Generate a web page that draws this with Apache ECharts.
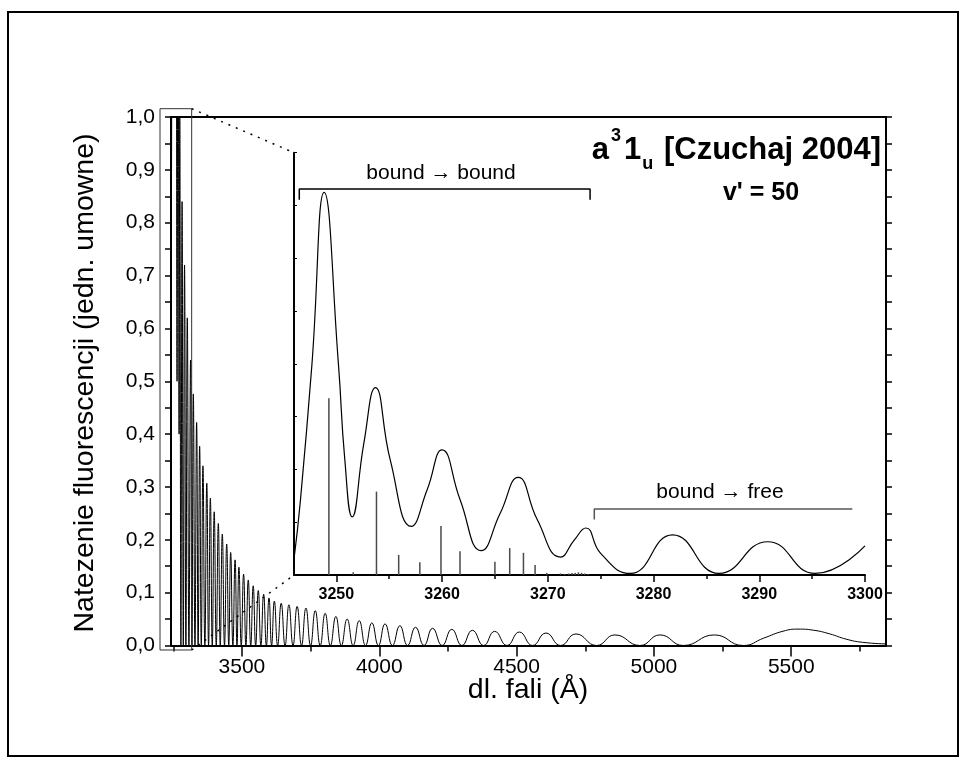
<!DOCTYPE html>
<html><head><meta charset="utf-8">
<script src="https://cdn.jsdelivr.net/npm/echarts@6/dist/echarts.min.js"></script>
<style>html,body{margin:0;padding:0;background:#fff}#c{width:978px;height:775px}</style>
</head><body><div id="c"></div>
<script>
// ---- main spectrum (wavelength in Å, intensity) ----
const mainX = [3241,3249,3251.5,3253.7,3257.1,3260,3263.7,3267.2,3271.2,3273.6,3277.8,3282,3286.5,3291,3296,3301,3307,3313,3318,3323,3329,3335,3340.5,3346,3352,3358,3365,3372,3378.5,3385,3392,3399,3406.5,3414,3421,3428.5,3436.5,3444.5,3452,3459,3467,3475,3482,3489,3497.5,3506,3514.5,3523,3532,3541,3550,3559.5,3569,3579,3589,3598.5,3608,3618,3630,3643,3657,3671,3686,3701,3717,3733,3750,3767,3785,3803,3822,3842,3862,3883,3905,3927,3950,3973,3997,4021,4048,4075,4103,4132,4163,4194,4229,4264,4301,4339,4380,4420,4465,4510,4558,4607,4660,4716,4791,4858,4949,5022,5107,5220,5325,5400,5470,5525,5580,5640,5700,5760,5845];
const mainY = [0.18,1.5,1.2,1.5,1.0,1.5,0.5,1.5,0.4,1.0,0.0,0.84,0.0,0.72,0.0,0.62,0.0,0.54,0.0,0.476,0.0,0.422,0.0,0.377,0.0,0.34,0.0,0.307,0.0,0.279,0.0,0.253,0.0,0.231,0.0,0.211,0.0,0.192,0.0,0.176,0.0,0.162,0.0,0.148,0.0,0.135,0.0,0.124,0.0,0.113,0.0,0.104,0.0,0.097,0.0,0.09,0.0,0.084,0.0,0.080,0.0,0.077,0.0,0.074,0.0,0.071,0.0,0.066,0.0,0.061,0.0,0.055,0.0,0.050,0.0,0.047,0.0,0.043,0.0,0.041,0.0,0.0375,0.0,0.0345,0.0,0.0325,0.0,0.0306,0.0,0.0287,0.0,0.0268,0.0,0.0255,0.0,0.0236,0.0,0.0218,0.0,0.020,0.0,0.020,0.0,0.020,0.0,0.014,0.027,0.031,0.029,0.022,0.012,0.006,0.003];

// ---- inset: envelope curve ----
const insetX = [3246.0,3246.6,3247.7,3248.85,3250.2,3250.8,3251.5,3252.6,3253.7,3255.1,3257.1,3258.6,3260.0,3261.7,3263.7,3265.5,3267.2,3269.0,3271.2,3272.5,3273.6,3275.0,3277.8,3281.8,3286.2,3290.8,3295.3,3300];
const insetY = [0.03,0.14,0.40,0.725,0.40,0.22,0.11,0.249,0.355,0.218,0.092,0.162,0.237,0.143,0.046,0.117,0.185,0.105,0.034,0.066,0.089,0.041,0.003,0.076,0.003,0.063,0.003,0.055];

// ---- inset: stick spectrum ----
const stickX = [3249.3,3251.6,3253.8,3255.9,3257.9,3259.9,3261.7,3265.0,3266.4,3267.7,3268.8,3269.9,3271.2,3271.6,3272.0,3272.3,3272.6,3272.9,3273.2,3273.5,3273.8];
const stickY = [0.335,0.005,0.158,0.038,0.024,0.093,0.045,0.025,0.051,0.042,0.019,0.004,0.003,0.002,0.003,0.004,0.004,0.005,0.004,0.003,0.002];

// ---- ticks ----
const mainTicks = [3500,4000,4500,5000,5500];
const mainMinorTicks = [3250,3750,4250,4750,5250,5750];
const insetTicks = [3250,3260,3270,3280,3290,3300];
const insetMinorTicks = [3255,3265,3275,3285,3295];

// ---- annotations (data coordinates) ----
const bbX = [3246.5,3246.5,3274,3274], bbY = [0.711,0.731,0.731,0.711];
const bfX = [3274.4,3274.4,3298.8], bfY = [0.105,0.125,0.125];
const boxX = [3201.7,3317], boxY = [-0.0085,1.0157];

const FF = '"Liberation Sans", Arial, sans-serif';
const zip = (a,b) => a.map((v,i)=>[v,b[i]]);
const plain = v => String(v);

const chart = echarts.init(document.getElementById('c'));
const axisLine = {show:true, lineStyle:{color:'#000', width:2}};
const option = {
  animation:false,
  backgroundColor:'#fff',
  grid:[
    {left:171, top:117, width:715, height:528.5},
    {left:294, top:152.7, width:571, height:422.3}
  ],
  xAxis:[
    {type:'value', gridIndex:0, min:3241.7, max:5845, position:'bottom', axisLine,
     splitLine:{show:false},
     axisTick:{show:true, customValues:mainTicks, length:11, lineStyle:{width:1.5,color:'#000'}},
     axisLabel:{show:true, customValues:mainTicks, formatter:plain, fontSize:21, fontFamily:FF, color:'#000', margin:11}},
    {type:'value', gridIndex:0, min:3241.7, max:5845, position:'bottom', axisLine:{show:false},
     splitLine:{show:false},
     axisTick:{show:true, customValues:mainMinorTicks, length:6, lineStyle:{width:1.5,color:'#000'}},
     axisLabel:{show:false}},
    {type:'value', gridIndex:0, min:3241.7, max:5845, position:'top', axisLine,
     splitLine:{show:false}, axisTick:{show:false}, axisLabel:{show:false}},
    {type:'value', gridIndex:1, min:3246, max:3300, position:'bottom', axisLine,
     splitLine:{show:false},
     axisTick:{show:true, customValues:insetTicks, length:7, lineStyle:{width:1.5,color:'#000'}},
     axisLabel:{show:true, customValues:insetTicks, formatter:plain, fontSize:16, fontWeight:'bold', fontFamily:FF, color:'#000', margin:12}},
    {type:'value', gridIndex:1, min:3246, max:3300, position:'bottom', axisLine:{show:false},
     splitLine:{show:false},
     axisTick:{show:true, customValues:insetMinorTicks, length:4, lineStyle:{width:1.5,color:'#000'}},
     axisLabel:{show:false}}
  ],
  yAxis:[
    {type:'value', gridIndex:0, min:0, max:1, interval:0.1, position:'left', axisLine,
     splitLine:{show:false},
     axisTick:{show:true, length:6, lineStyle:{width:1.5,color:'#000'}},
     minorTick:{show:true, splitNumber:2, length:6, lineStyle:{width:1.5,color:'#000'}},
     axisLabel:{fontSize:21, fontFamily:FF, color:'#000', margin:16,
       formatter:v=>v.toFixed(1).replace('.',',')}},
    {type:'value', gridIndex:0, min:0, max:1, interval:0.1, position:'right', axisLine,
     splitLine:{show:false},
     axisTick:{show:true, length:6, lineStyle:{width:1.5,color:'#000'}},
     minorTick:{show:true, splitNumber:2, length:6, lineStyle:{width:1.5,color:'#000'}},
     axisLabel:{show:false}},
    {type:'value', gridIndex:1, min:0, max:0.8, interval:0.1, position:'left', axisLine,
     splitLine:{show:false},
     axisTick:{show:true, inside:true, length:3, lineStyle:{width:1,color:'#000'}},
     axisLabel:{show:false}}
  ],
  series:[
    {type:'line', xAxisIndex:0, yAxisIndex:0, data:zip(mainX,mainY), smooth:0.5, symbol:'none',
     clip:true, lineStyle:{color:'#000', width:1}},
    {type:'bar', xAxisIndex:3, yAxisIndex:2, data:zip(stickX,stickY), barWidth:1.5,
     itemStyle:{color:'#4a4a4a'}},
    {type:'line', xAxisIndex:3, yAxisIndex:2, data:zip(insetX,insetY), smooth:0.5, symbol:'none',
     clip:true, lineStyle:{color:'#000', width:1.2}},
    {type:'line', xAxisIndex:3, yAxisIndex:2, data:zip(bbX,bbY), symbol:'none',
     lineStyle:{color:'#000', width:1.5}},
    {type:'line', xAxisIndex:3, yAxisIndex:2, data:zip(bfX,bfY), symbol:'none',
     lineStyle:{color:'#555', width:1.5}}
  ]
};
chart.setOption(option);

const px = (g, x, y) => chart.convertToPixel({gridIndex:g}, [x, y]);
const b0 = px(0, boxX[0], boxY[1]), b1 = px(0, boxX[1], boxY[0]);
const iTop = px(1, 3246, 0.8), iBot = px(1, 3246, 0);
const dot = {stroke:'#000', lineWidth:1.5, lineDash:[2,6]};
chart.setOption({graphic:[
  {type:'rect', shape:{x:8, y:12, width:950, height:744}, style:{fill:'none', stroke:'#000', lineWidth:2}, z:100},
  {type:'rect', shape:{x:b0[0], y:b0[1], width:b1[0]-b0[0], height:b1[1]-b0[1]}, style:{fill:'none', stroke:'#333', lineWidth:1}, z:100},
  {type:'line', shape:{x1:b1[0], y1:b0[1], x2:iTop[0], y2:iTop[1]}, style:dot, z:100},
  {type:'line', shape:{x1:b1[0], y1:b1[1], x2:iBot[0], y2:iBot[1]}, style:dot, z:100},
  {type:'text', x:85, y:383, rotation:Math.PI/2, z:100,
   style:{text:'Natezenie fluorescencji (jedn. umowne)', font:'28.5px '+FF, fill:'#000', align:'center', verticalAlign:'middle'}},
  {type:'text', x:528, y:690, z:100,
   style:{text:'dl. fali (Å)', font:'28.5px '+FF, fill:'#000', align:'center', verticalAlign:'middle'}},
  {type:'text', x:441, y:173, z:100,
   style:{text:'bound → bound', font:'21px '+FF, fill:'#000', align:'center', verticalAlign:'middle'}},
  {type:'text', x:720, y:492, z:100,
   style:{text:'bound → free', font:'21px '+FF, fill:'#000', align:'center', verticalAlign:'middle'}},
  {type:'text', x:761, y:193, z:100,
   style:{text:"v' = 50", font:'bold 25px '+FF, fill:'#000', align:'center', verticalAlign:'middle'}},
  {type:'text', x:881, y:150, z:100,
   style:{text:'{m|a}{sup|3}{m|1}{sub|u}{m| [Czuchaj 2004]}', align:'right', verticalAlign:'middle',
     rich:{
       m:{fontSize:31, fontWeight:'bold', fontFamily:FF, color:'#000', lineHeight:46, verticalAlign:'middle'},
       sup:{fontSize:18, fontWeight:'bold', fontFamily:FF, color:'#000', lineHeight:18, verticalAlign:'top', padding:[0,3,0,2]},
       sub:{fontSize:18, fontWeight:'bold', fontFamily:FF, color:'#000', lineHeight:18, verticalAlign:'bottom', padding:[0,2,0,1]}
     }}}
]});
</script></body></html>
